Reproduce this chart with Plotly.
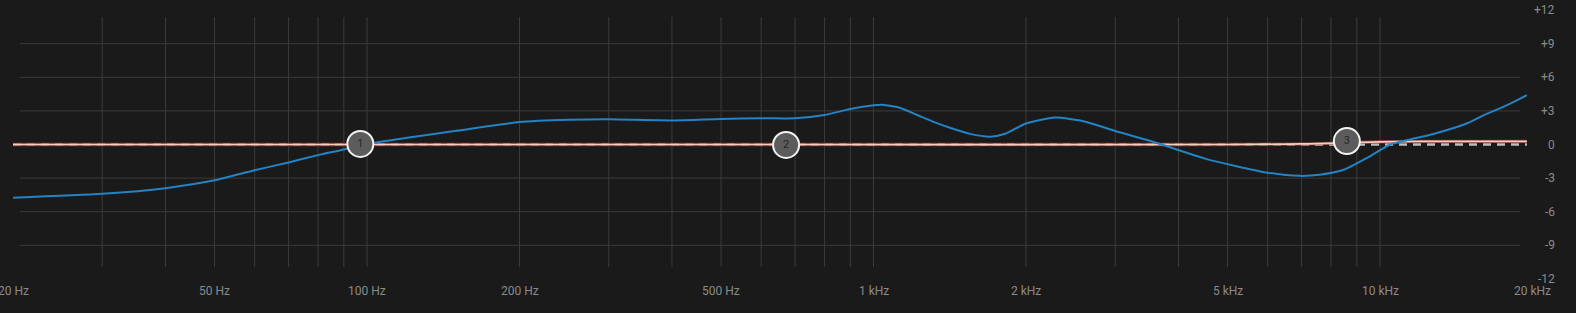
import math
import plotly.graph_objects as go

# ---------------- data ----------------
curve_freq = [20, 30, 40, 50, 60, 70, 80, 90, 100, 120, 150, 200, 250, 300, 400,
              500, 600, 700, 800, 900, 1000, 1040, 1130, 1220, 1310, 1420, 1550, 1700,
              1820, 2000, 2280, 2620, 3000, 3610, 4530, 5960, 6950, 7600, 8450, 9425,
              10470, 11460, 12740, 14870, 16000, 18000, 19500]
curve_db = [-4.75, -4.4, -3.9, -3.2, -2.3, -1.6, -0.95, -0.45, 0.05, 0.6, 1.22, 2.0,
            2.2, 2.25, 2.15, 2.28, 2.34, 2.34, 2.63, 3.17, 3.5, 3.55, 3.26, 2.63, 2.04,
            1.47, 0.95, 0.7, 0.96, 1.87, 2.4, 2.04, 1.2, 0.16, -1.28, -2.5, -2.8, -2.7,
            -2.28, -1.2, 0.0, 0.45, 0.94, 1.9, 2.6, 3.6, 4.4]

target_freq = [20, 100, 680, 5000, 7000, 8600, 10000, 12000, 19500]
target_db = [0, 0, 0, 0, 0.05, 0.15, 0.24, 0.28, 0.28]

flat_freq = [20, 19500]
flat_db = [0, 0]

node_freq = [97, 672, 8600]
node_db = [0.05, -0.04, 0.31]
node_labels = ["1", "2", "3"]

x_tick_vals = [20, 50, 100, 200, 500, 1000, 2000, 5000, 10000, 20000]
x_tick_text = ["20 Hz", "50 Hz", "100 Hz", "200 Hz", "500 Hz", "1 kHz", "2 kHz",
               "5 kHz", "10 kHz", "20 kHz"]
y_tick_vals = [12, 9, 6, 3, 0, -3, -6, -9, -12]
y_tick_text = ["+12", "+9", "+6", "+3", "0", "-3", "-6", "-9", "-12"]
grid_db = [9, 6, 3, -3, -6, -9]
grid_freq = [30, 40, 50, 60, 70, 80, 90, 100, 200, 300, 400, 500, 600, 700, 800, 900,
             1000, 2000, 3000, 4000, 5000, 6000, 7000, 8000, 9000, 10000]

# ---------------- layout geometry ----------------
W, H = 1576, 313
decade_px = 506.5
x0_px = 13.0
r0 = math.log10(20) - x0_px / decade_px
r1 = r0 + W / decade_px
zero_px = 144.5
px_per_db = 11.2
y_top = zero_px / px_per_db
y_bot = -(H - zero_px) / px_per_db

BG = "#1a1a1a"
GRID = "#3b3b3b"
LABEL = "#8a8a8a"
FONT = "Roboto, sans-serif"

fig = go.Figure()

fig.add_trace(go.Scatter(x=flat_freq, y=flat_db, mode="lines",
                         line=dict(color="#bdbdbd", width=2.5, dash="8px,6px"),
                         hoverinfo="skip", showlegend=False))
fig.add_trace(go.Scatter(x=target_freq, y=target_db, mode="lines",
                         line=dict(color="rgba(170,70,60,0.7)", width=3.4, shape="spline"),
                         hoverinfo="skip", showlegend=False))
fig.add_trace(go.Scatter(x=target_freq, y=target_db, mode="lines",
                         line=dict(color="#f5cfc2", width=1.7, shape="spline"),
                         hoverinfo="skip", showlegend=False))
fig.add_trace(go.Scatter(x=curve_freq, y=curve_db, mode="lines",
                         line=dict(color="#2383c4", width=2, shape="spline", smoothing=0.6),
                         hoverinfo="skip", showlegend=False))
fig.add_trace(go.Scatter(x=node_freq, y=node_db, mode="markers+text",
                         marker=dict(size=26, color="#5c5c5c",
                                     line=dict(color="#f2f2f2", width=2)),
                         text=node_labels, textposition="middle center",
                         textfont=dict(family=FONT, size=11, color="#262626"),
                         hoverinfo="skip", showlegend=False))

shapes = []
for f in grid_freq:
    shapes.append(dict(type="line", xref="x", yref="paper", x0=f, x1=f,
                       y0=1 - 267 / H, y1=1 - 17 / H,
                       line=dict(color=GRID, width=1), layer="below"))
for d in grid_db:
    shapes.append(dict(type="line", xref="paper", yref="y", x0=20 / W, x1=1520 / W,
                       y0=d, y1=d, line=dict(color=GRID, width=1), layer="below"))

annotations = []
for f, t in zip(x_tick_vals, x_tick_text):
    annotations.append(dict(x=math.log10(f), y=1 - 291 / H, xref="x", yref="paper",
                            text=t, showarrow=False, xanchor="center", yanchor="middle",
                            font=dict(family=FONT, size=12, color=LABEL)))
for v, t in zip(y_tick_vals, y_tick_text):
    annotations.append(dict(x=1557 / W, y=v, xref="paper", yref="y",
                            text=t, showarrow=False, xanchor="right", yanchor="middle",
                            font=dict(family=FONT, size=12, color=LABEL)))

fig.update_layout(
    width=W, height=H,
    margin=dict(l=0, r=0, t=0, b=0),
    paper_bgcolor=BG, plot_bgcolor=BG,
    xaxis=dict(type="log", range=[r0, r1], showgrid=False, zeroline=False,
               showticklabels=False, ticks="", fixedrange=True),
    yaxis=dict(range=[y_bot, y_top], showgrid=False, zeroline=False,
               showticklabels=False, ticks="", fixedrange=True),
    shapes=shapes,
    annotations=annotations,
    showlegend=False,
)

fig.write_html("out.html")
